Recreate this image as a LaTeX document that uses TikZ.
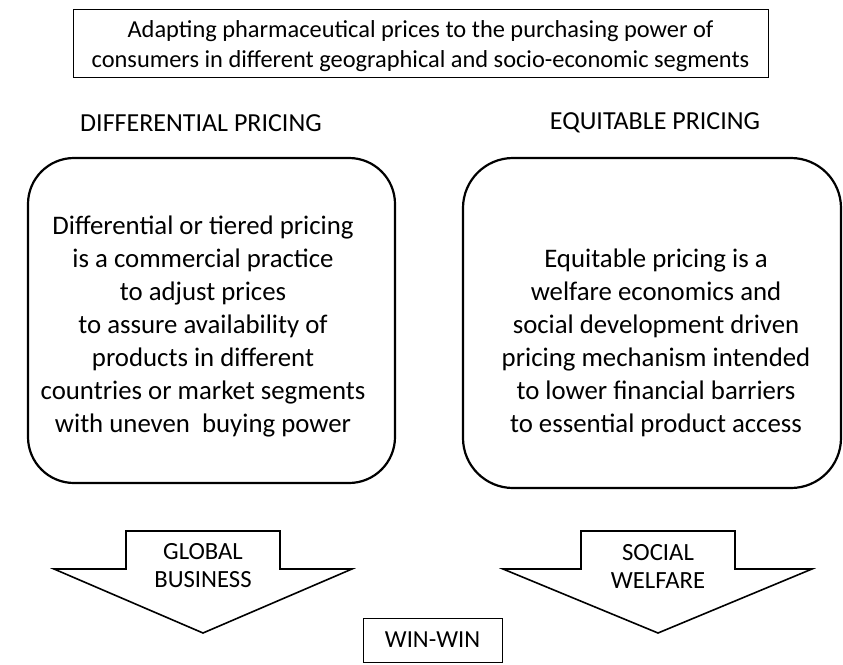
\documentclass[tikz,border=0pt]{standalone}
\usepackage{fontspec}
\setmainfont{Carlito}
\begin{document}
\begin{tikzpicture}[x=1pt,y=-1pt]
            % Page frame
            \useasboundingbox (0,0) rectangle (843,664);

            % Title box
            \node[draw, line width=0.8pt, minimum width=695pt, minimum height=68pt] (titlebox) at (420.5,43) {};
            \node[align=center, font=\fontsize{24.4}{30}\selectfont] (title) at (420.5,46.5)
                {Adapting pharmaceutical prices to the purchasing power of\\consumers in different geographical and socio-economic segments};

            % Headings
            \node[font=\fontsize{26}{30}\selectfont] (diffhead) at (201,123) {DIFFERENTIAL PRICING};
            \node[font=\fontsize{26}{30}\selectfont] (equihead) at (655,123) {EQUITABLE PRICING};

            % Rounded boxes
            \node[draw, line width=2.2pt, rounded corners=46pt, minimum width=367pt, minimum height=325pt] (diffbox) at (211.5,320.5) {};
            \node[draw, line width=2.2pt, rounded corners=50pt, minimum width=378pt, minimum height=330pt] (equibox) at (652,323) {};
            \node[align=center, font=\fontsize{26.8}{33}\selectfont] (difftext) at (203,326)
                {Differential or tiered pricing\\is a commercial practice\\to adjust prices\\to assure availability of\\products in different\\countries or market segments\\with uneven\ \ buying power};
            \node[align=center, font=\fontsize{26.8}{33}\selectfont] (equitext) at (656,342.5)
                {Equitable pricing is a\\welfare economics and\\social development driven\\pricing mechanism intended\\to lower financial barriers\\to essential product access};

            % Block arrows
            \draw[line width=1.6pt, line join=miter] (126,531) -- (280,531) -- (280,569) -- (352,569)
                -- (203,633) -- (54,569) -- (126,569) -- cycle;
            \draw[line width=1.6pt, line join=miter] (581,531) -- (735,531) -- (735,569) -- (812,569)
                -- (658,633) -- (503,569) -- (581,569) -- cycle;
            \node[align=center, font=\fontsize{24.7}{28}\selectfont] (global) at (203,566) {GLOBAL\\BUSINESS};
            \node[align=center, font=\fontsize{24.7}{28}\selectfont] (social) at (658,566) {SOCIAL\\WELFARE};

            % Outcome
            \node[draw, line width=0.9pt, minimum width=139pt, minimum height=44pt,
                  font=\fontsize{24.5}{28}\selectfont] (winwin) at (432.5,640) {WIN-WIN};

        \end{tikzpicture}
\end{document}
